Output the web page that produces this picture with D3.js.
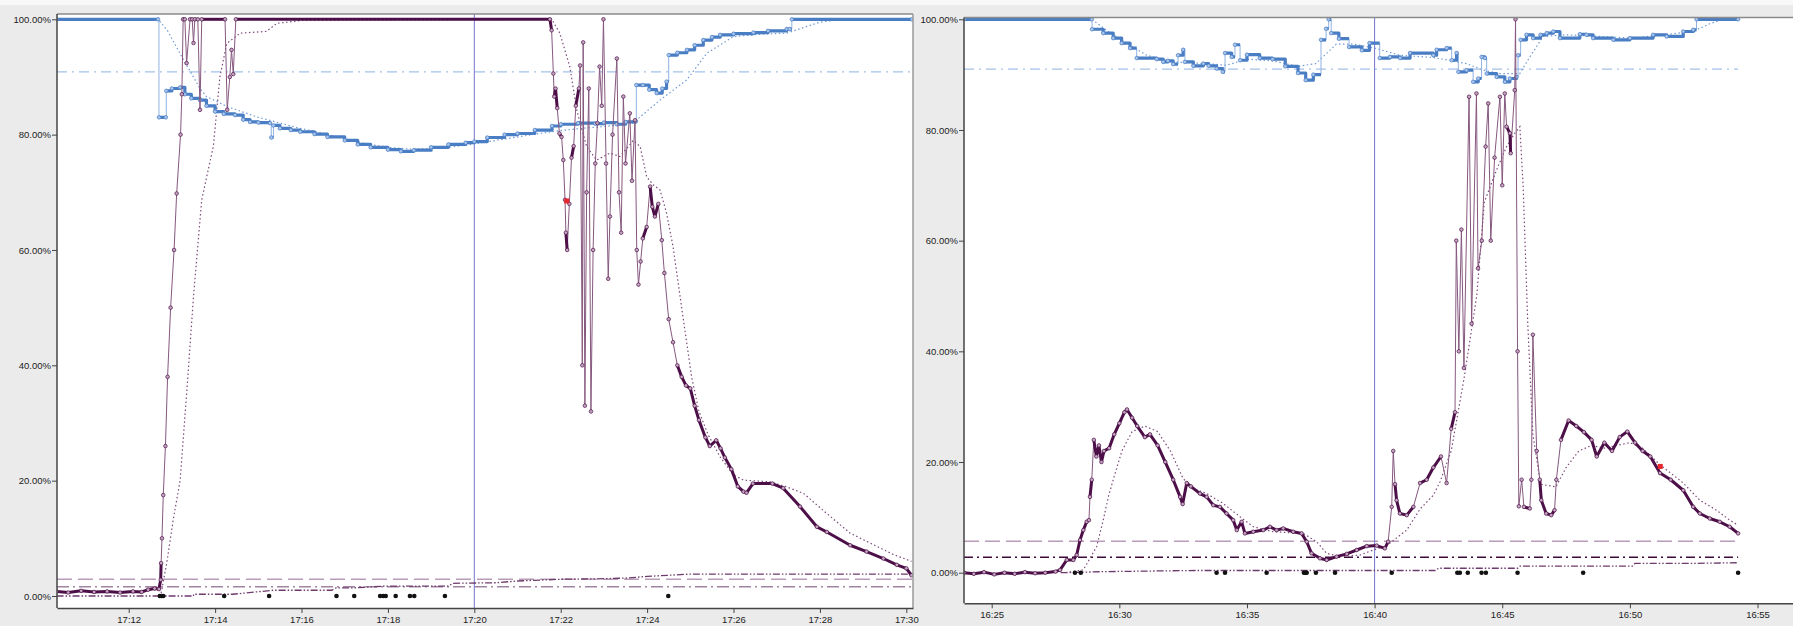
<!DOCTYPE html>
<html>
<head>
<meta charset="utf-8">
<title>load traces</title>
<script src="https://d3js.org/d3.v7.min.js"></script>
<style>
    body{margin:0;background:#ebebeb;overflow:hidden}
    svg{display:block;font-family:"Liberation Sans",Arial,sans-serif}
    .tick text{font-size:9.5px;fill:#222}
</style>
</head>
<body>
<div id="chart"></div>
<script>
// ---- left panel (minutes after 17:00) ----
var leftBlue = [[10.33,100],[12.68,100],[12.70,83],[12.86,83],[12.87,87.6],[13.0,88],[13.19,88.2],[13.3,87],[13.45,86.3],[13.65,86],[13.8,85],[14.0,84],[14.2,83.6],[14.46,83.4],[14.65,82.6],[14.81,82.2],[15.0,82.1],[15.27,82],[15.3,79.5],[15.35,81.6],[15.5,81.1],[15.75,80.8],[15.97,80.5],[16.3,80.1],[16.6,79.6],[17.0,79],[17.3,78.3],[17.6,77.8],[18.0,77.4],[18.3,77.1],[18.6,77.3],[19.0,77.8],[19.4,78.3],[19.8,78.6],[20.0,78.8],[20.3,79.5],[20.7,80],[21.0,80.2],[21.4,80.8],[21.8,81.5],[22.0,81.8],[22.4,82],[22.8,81.9],[23.0,82.1],[23.3,81.8],[23.5,82.2],[23.74,82.3],[23.75,88.6],[23.9,88.6],[24.05,87.8],[24.22,87.2],[24.35,88],[24.45,89.2],[24.5,93.8],[24.7,94.2],[24.92,94.7],[25.1,95.5],[25.3,96.4],[25.5,96.9],[25.69,97.3],[26.0,97.5],[26.46,97.7],[26.8,98],[27.23,98.3],[27.3,98.3],[27.35,100],[30.13,100]]
var leftBlueAvg = [[10.33,100],[12.68,100],[12.9,98],[13.23,93.5],[13.65,88],[13.8,86.6],[14.3,84.8],[15.0,83],[15.96,81.1],[16.5,80.2],[17.0,79.3],[17.5,78.4],[18.0,77.8],[18.5,77.5],[19.0,77.6],[19.5,77.9],[20.0,78.4],[20.5,79],[21.0,79.6],[21.5,80.2],[22.0,80.7],[22.5,81.1],[23.0,81.4],[23.67,82],[24.3,86],[24.92,89.5],[25.38,94.1],[26.0,97],[26.6,97.4],[27.23,97.6],[28.0,99.5],[28.5,100],[30.13,100]]
var leftPurple = [[10.33,0.8],[10.6,0.6],[10.9,0.9],[11.2,0.7],[11.5,0.8],[11.8,0.6],[12.1,0.8],[12.3,0.7],[12.45,1.1],[12.6,1.3],[12.70,1.2],[12.74,2.8],[12.75,5.7],[12.77,10],[12.80,17.5],[12.85,26],[12.9,38],[12.97,50],[13.05,60],[13.11,69.8],[13.2,80],[13.23,87],[13.26,100],[13.30,100],[13.34,92.4],[13.42,100],[13.47,100],[13.50,95.9],[13.53,100],[13.60,100],[13.65,84.3],[13.69,100],[14.23,100],[14.28,84.3],[14.34,90],[14.38,94.7],[14.42,90.5],[14.48,100],[21.75,100],[21.79,98.1],[21.83,90.6],[21.85,86.6],[21.88,88],[21.92,84.6],[21.97,80.2],[22.02,79.6],[22.06,75.6],[22.10,68.7],[22.12,63],[22.15,60],[22.2,68],[22.25,76],[22.3,78],[22.35,85],[22.42,88],[22.45,92],[22.5,40],[22.52,96],[22.56,33],[22.6,70],[22.65,88],[22.7,32],[22.75,60],[22.8,75],[22.85,82],[22.9,91.8],[22.95,85],[22.99,100],[23.05,75],[23.1,55],[23.14,65.8],[23.2,80],[23.3,93.2],[23.35,70],[23.4,63],[23.45,86.6],[23.5,75],[23.6,83.7],[23.65,72],[23.72,82.5],[23.76,60],[23.8,54],[23.85,58],[23.9,62],[23.99,64],[24.07,71],[24.12,67.5],[24.18,65.8],[24.26,68],[24.34,61.7],[24.4,56],[24.5,48],[24.6,44],[24.7,40],[24.8,38],[24.9,36.5],[25.0,36],[25.1,33],[25.2,30.5],[25.35,27.5],[25.45,26],[25.6,27],[25.7,25.6],[25.8,24],[25.95,22],[26.1,19],[26.23,18.1],[26.3,17.9],[26.45,19.5],[26.9,19.5],[27.15,18.7],[27.54,15.5],[27.93,12],[28.16,11.1],[28.7,8.8],[29.08,7.7],[29.47,6.5],[29.78,5.4],[30.0,4.8],[30.12,3.6]]
var leftPurpleAvg = [[12.75,0.5],[12.88,5.7],[13.03,13.2],[13.19,20],[13.35,36],[13.5,52],[13.69,68.7],[13.96,78],[14.11,90],[14.27,95.8],[14.58,97.6],[15.19,97.9],[15.43,99.3],[16.0,99.8],[21.79,100],[21.98,97.6],[22.21,91.8],[22.37,84.3],[22.6,77.9],[22.83,75.6],[23.14,76.8],[23.37,76.2],[23.68,79],[23.84,77.9],[23.99,72.7],[24.14,71.3],[24.3,70.4],[24.45,66.4],[24.6,60.6],[24.8,50],[25.03,38],[25.2,32],[25.41,28],[25.7,24],[26.0,21],[26.23,20.1],[26.84,19.8],[27.2,19],[27.62,17.8],[28.16,14.3],[28.7,10.9],[29.32,8.6],[29.7,7.2],[30.12,6]]
var leftCumul = [[10.33,0],[13.5,0],[13.5,0.3],[14.4,0.3],[15.35,1.0],[16.7,1.0],[16.8,1.4],[17.2,1.4],[17.9,1.7],[19.4,1.7],[19.5,2.2],[20.5,2.3],[21.0,2.6],[22.0,2.9],[23.0,3.0],[23.5,3.1],[24.0,3.4],[24.5,3.6],[25.0,3.8],[30.12,3.8]]
var leftEvents = [12.72,12.76,12.80,14.21,15.25,16.81,17.22,17.82,17.89,17.95,18.18,18.51,18.61,19.32,24.49]
var leftRed = [22.14,68.5]
var leftLimits = {blue:90.9, dash:2.9, dashDot:1.6}
var leftCursor = 20

// ---- right panel (minutes after 16:00) ----
var rightBlue = [[23.92,100],[28.92,100],[28.93,98.2],[29.37,97.5],[29.76,96.6],[30.09,95.7],[30.42,94.8],[30.68,93],[31.46,92.8],[31.72,92.3],[31.9,92.5],[32.11,91.9],[32.3,93.5],[32.5,94.5],[32.57,92.3],[32.9,91.6],[33.29,92],[33.5,91.6],[33.81,91.1],[34.05,90.5],[34.14,93.9],[34.4,93.2],[34.53,95.4],[34.73,92.6],[35.0,93.6],[35.5,93],[36.0,92.8],[36.5,91.5],[37.0,90.3],[37.3,89],[37.6,90],[37.9,96.3],[38.1,98.3],[38.2,100],[38.3,97.5],[38.6,96.5],[39.0,95],[39.5,94.4],[39.8,95.7],[40.2,93],[40.6,93.2],[41.0,93],[41.39,93.9],[42.3,93.5],[42.43,94.5],[42.82,94.8],[43.02,92.6],[43.21,93.9],[43.28,90.5],[43.6,90.8],[43.86,88.7],[44.06,89.3],[44.19,93.2],[44.32,93],[44.39,90.2],[44.78,89.6],[45.1,88.7],[45.3,89.3],[45.56,89.6],[45.62,93.5],[45.72,96.3],[45.95,97.2],[46.21,96.6],[46.5,97.2],[46.74,97.5],[47.0,97.8],[47.26,96.6],[48.04,97.3],[48.3,97.2],[48.56,96.6],[49.35,96.3],[50.0,96.6],[50.91,97.2],[51.44,96.9],[52.09,97.8],[52.48,98.1],[52.61,100],[54.24,100]]
var rightBlueAvg = [[23.92,100],[28.92,100],[29.5,98],[30.29,95.7],[31.07,93.5],[32.11,92.3],[33.4,92],[34.2,91.7],[35.0,92.8],[36.0,92.5],[37.0,91.5],[37.7,92],[38.5,95.5],[39.2,95.5],[40.0,94.8],[41.0,93.5],[42.3,93.1],[43.6,92],[44.26,90.8],[44.91,90.2],[45.69,90.2],[46.08,93.2],[46.6,96.9],[47.52,97.2],[50.13,96.6],[52.48,97.8],[53.13,99.2],[53.65,100],[54.24,100]]
var rightPurple = [[23.92,0],[24.3,-0.2],[24.7,0.1],[25.1,-0.3],[25.5,0],[25.9,-0.2],[26.3,0.1],[26.7,-0.1],[27.1,0],[27.5,0.2],[27.68,0.5],[27.94,2.3],[28.2,2.3],[28.33,3.2],[28.46,5.9],[28.59,7.7],[28.72,9.2],[28.81,9.5],[28.85,13.7],[28.92,16.8],[29.0,24],[29.1,21],[29.2,23],[29.3,20],[29.4,22],[29.6,22.5],[29.8,25],[30.0,27],[30.2,29],[30.3,29.5],[30.5,28],[30.7,26.5],[31.0,24.5],[31.2,25],[31.5,23],[31.8,20],[32.11,16.8],[32.38,13.7],[32.48,12.4],[32.64,16.2],[32.8,15.6],[33.16,14.3],[33.42,13.7],[33.68,12.2],[33.94,11.9],[34.2,10.7],[34.46,9.5],[34.6,7.7],[34.79,9.2],[34.92,7.1],[35.25,7.4],[35.64,7.7],[35.9,8.3],[36.16,7.7],[36.42,8.0],[36.81,7.4],[37.14,7.1],[37.34,5.6],[37.53,3.5],[37.86,2.6],[38.12,2.3],[38.51,2.9],[38.91,3.4],[39.3,4.1],[39.69,4.8],[40.08,4.9],[40.4,4.4],[40.53,5.6],[40.67,11.9],[40.73,22],[40.8,16],[40.86,13.1],[40.99,10.7],[41.26,10.4],[41.52,11.9],[41.78,16.2],[42.04,16.8],[42.3,19],[42.6,21],[42.82,16.2],[43.0,26],[43.15,29],[43.2,60],[43.3,40],[43.4,62],[43.5,37],[43.7,86],[43.8,45],[43.99,86.6],[44.05,55],[44.2,60],[44.35,77],[44.45,84.8],[44.55,60],[44.7,75],[44.91,86],[45.0,70],[45.1,86.6],[45.17,80.6],[45.3,79.4],[45.33,75.8],[45.49,87.2],[45.52,100],[45.6,40],[45.65,12],[45.76,16.8],[45.85,11.9],[46.08,11.6],[46.14,16.8],[46.2,43],[46.35,22],[46.47,16.8],[46.53,13.1],[46.72,10.7],[46.92,10.4],[47.05,11.3],[47.12,16.8],[47.3,24],[47.6,27.5],[47.9,26.5],[48.2,25.4],[48.5,24],[48.7,21],[49.0,23.5],[49.3,22],[49.6,24.5],[49.9,25.5],[50.2,23.5],[50.5,22],[50.8,21],[51.18,18],[51.6,16.8],[52.09,14.9],[52.48,11.9],[52.74,10.7],[53.13,9.8],[53.52,9.2],[53.91,8.3],[54.24,7.1]]
var rightPurpleAvg = [[27.9,0],[28.59,0.5],[29.11,4.7],[29.37,9.5],[29.57,13.7],[29.76,16.8],[30.1,22],[30.5,25.5],[31.0,26.5],[31.5,25.5],[32.0,22],[32.5,17],[32.9,15.2],[33.42,14.3],[34.07,12.5],[34.73,10.1],[35.25,8.3],[36.03,7.4],[37.2,7.1],[37.73,5.6],[38.12,3.5],[38.64,2.9],[39.43,3.2],[39.95,4.1],[40.47,4.9],[41.26,7.7],[41.78,11.5],[42.3,14],[42.56,16.4],[43.0,22],[43.5,35],[44.0,50],[44.3,67],[44.78,72.8],[45.17,77],[45.49,79.4],[45.69,80.6],[45.82,69.7],[46.0,45],[46.2,25],[46.5,16],[47.1,15.5],[47.5,19],[48.0,22],[48.5,23],[49.0,22.5],[49.5,23],[50.0,23.5],[50.5,22.5],[51.18,19.5],[51.6,18],[52.09,16.2],[52.74,13.1],[53.39,11.3],[53.91,9.5],[54.24,8.6]]
var rightCumul = [[27.7,0],[29.5,0.2],[33.0,0.4],[42.4,0.4],[42.5,0.8],[45.6,0.8],[45.7,1.2],[50.1,1.2],[50.2,1.7],[52.7,1.7],[54.24,1.8]]
var rightEvents = [28.26,28.49,33.81,34.14,35.77,37.23,37.30,37.34,37.70,38.45,40.67,43.24,43.34,43.65,44.19,44.36,45.6,48.17,54.24]
var rightRed = [51.19,19.2]
var rightLimits = {blue:91.0, dash:5.7, dashDot:2.8}
var rightCursor = 40

var yTicks = [0,20,40,60,80,100]

var W = 1793, H = 626
var svg = d3.select("#chart").append("svg").attr("width",W).attr("height",H)
svg.append("rect").attr("width",W).attr("height",H).attr("fill","#ebebeb")
svg.append("rect").attr("width",W).attr("height",5).attr("fill","#f8f8f8")

function toDate(hour,t){
    return new Date(new Date(2020,0,1,hour,0,0).getTime() + t*60000)
}

drawPanel({id:"L",hour:17,t0:10.34,t1:30.155,left:57,right:913,top:14,bottom:608,y0:596,y100:19.3,step:2,border:true,
    blue:leftBlue,blueAvg:leftBlueAvg,purple:leftPurple,purpleAvg:leftPurpleAvg,cumul:leftCumul,events:leftEvents,
    red:leftRed,limits:leftLimits,cursor:leftCursor,dashDotColor:"#a283a0",dashDotArr:"12,4,2,4"})
drawPanel({id:"R",hour:16,t0:23.915,t1:56.39,left:964,right:1793,top:17.5,bottom:603.3,y0:572.7,y100:19.3,step:5,border:false,
    blue:rightBlue,blueAvg:rightBlueAvg,purple:rightPurple,purpleAvg:rightPurpleAvg,cumul:rightCumul,events:rightEvents,
    red:rightRed,limits:rightLimits,cursor:rightCursor,dashDotColor:"#3d0b39",dashDotArr:"9,4,2,4"})

function drawPanel(p){
    var x = d3.scaleTime().domain([toDate(p.hour,p.t0),toDate(p.hour,p.t1)]).range([p.left,p.right])
    var y = d3.scaleLinear().domain([0,100]).range([p.y0,p.y100])
    var X = function(d){return x(toDate(p.hour,d[0]))}
    var Y = function(d){return y(d[1])}

    svg.append("rect").attr("x",p.left).attr("y",p.top).attr("width",p.right-p.left).attr("height",p.bottom-p.top).attr("fill","#fff")
    svg.append("clipPath").attr("id","clip"+p.id).append("rect")
        .attr("x",p.left).attr("y",p.top).attr("width",p.right-p.left).attr("height",p.bottom-p.top)
    var g = svg.append("g").attr("clip-path","url(#clip"+p.id+")")

    var tEnd = p.blue[p.blue.length-1][0]
    if(p.border) tEnd = p.t1

    // threshold lines
    hline(g,x,y,p,tEnd,p.limits.blue,"#a3c1ea","10,5,2,5",1.3)
    hline(g,x,y,p,tEnd,p.limits.dash,"#b89cb8","15,6",1.5)
    hline(g,x,y,p,tEnd,p.limits.dashDot,p.dashDotColor,p.dashDotArr,1.4)

    // cursor
    g.append("line").attr("x1",x(toDate(p.hour,p.cursor))).attr("x2",x(toDate(p.hour,p.cursor)))
        .attr("y1",p.top).attr("y2",p.bottom).attr("stroke","#7373cc").attr("stroke-width",1)

    // cumulative
    g.append("path").attr("d",d3.line().x(X).y(Y)(p.cumul)).attr("fill","none")
        .attr("stroke","#6e3a6c").attr("stroke-width",1.3).attr("stroke-dasharray","7,2,1.5,2,1.5,2")

    // moving averages
    g.append("path").attr("d",d3.line().x(X).y(Y)(p.blueAvg)).attr("fill","none")
        .attr("stroke","#6f9ad6").attr("stroke-width",1.2).attr("stroke-dasharray","1.5,2.5")
    g.append("path").attr("d",d3.line().x(X).y(Y)(p.purpleAvg)).attr("fill","none")
        .attr("stroke","#7d4a7b").attr("stroke-width",1.2).attr("stroke-dasharray","1.5,2.5")

    drawSeries(g,p.blue,X,Y,{step:true,color:"#4a7ec4",thin:"#8fb2e2",fill:"#a9c5ec",jump:8,width:3.2})
    drawSeries(g,p.purple,X,Y,{step:false,color:"#4d0f48",thin:"#86587f",fill:"#c2a6bf",jump:22,width:3})

    // events
    g.selectAll(".ev"+p.id).data(p.events).enter().append("circle").attr("class","ev"+p.id)
        .attr("cx",function(d){return x(toDate(p.hour,d))}).attr("cy",y(0)).attr("r",2.3).attr("fill","#111")

    // red marker
    g.append("rect").attr("x",X(p.red)-2.5).attr("y",Y(p.red)-2.5).attr("width",5).attr("height",5).attr("fill","#e8262b")

    // frame
    svg.append("line").attr("x1",p.left).attr("x2",p.right).attr("y1",p.top).attr("y2",p.top).attr("stroke","#8a8a8a").attr("stroke-width",1.5)
    if(p.border){
        svg.append("line").attr("x1",p.right).attr("x2",p.right).attr("y1",p.top).attr("y2",p.bottom).attr("stroke","#9a9a9a").attr("stroke-width",1.5)
    }

    var yAxis = svg.append("g").attr("transform","translate("+p.left+",0)")
        .call(d3.axisLeft(y).tickValues(yTicks).tickSize(5).tickSizeOuter(0)
            .tickFormat(function(v){return d3.format(".2%")(v/100)}))
    yAxis.select(".domain").attr("d","M0,"+p.top+"V"+p.bottom).attr("stroke","#444").attr("stroke-width",1.5)
    yAxis.selectAll(".tick line").attr("stroke","#444")
    yAxis.selectAll(".tick text").attr("x",-6)

    var xAxis = svg.append("g").attr("transform","translate(0,"+p.bottom+")")
        .call(d3.axisBottom(x).ticks(d3.timeMinute.every(p.step)).tickSize(5).tickSizeOuter(0)
            .tickFormat(d3.timeFormat("%H:%M")))
    xAxis.select(".domain").attr("stroke","#444").attr("stroke-width",1.5)
    xAxis.selectAll(".tick line").attr("stroke","#444")
    xAxis.selectAll(".tick text").attr("y",8)
}

function hline(g,x,y,p,tEnd,v,color,dash,w){
    g.append("line").attr("x1",p.left).attr("x2",x(toDate(p.hour,tEnd)))
        .attr("y1",y(v)).attr("y2",y(v)).attr("stroke",color).attr("stroke-width",w).attr("stroke-dasharray",dash)
}

function drawSeries(g,data,X,Y,o){
    var line = d3.line().x(X).y(Y).curve(o.step ? d3.curveStepAfter : d3.curveLinear)
    g.append("path").attr("d",line(data)).attr("fill","none").attr("stroke",o.thin).attr("stroke-width",1)
    // dense parts get the heavy stroke, big jumps stay thin
    var runs = [], cur = [data[0]]
    for(var i=1;i<data.length;i++){
        if(Math.abs(Y(data[i])-Y(data[i-1])) > o.jump){
            if(o.step) cur.push([data[i][0],data[i-1][1]])
            runs.push(cur)
            cur = [data[i]]
        } else cur.push(data[i])
    }
    runs.push(cur)
    runs.forEach(function(r){
        if(r.length>1){
            g.append("path").attr("d",line(r)).attr("fill","none").attr("stroke",o.color)
                .attr("stroke-width",o.width).attr("stroke-linejoin","round")
        }
    })
    g.append("g").selectAll("circle").data(data).enter().append("circle")
        .attr("cx",X).attr("cy",Y).attr("r",1.8)
        .attr("fill",o.fill).attr("stroke",o.color).attr("stroke-width",0.7)
}
</script>
</body>
</html>
